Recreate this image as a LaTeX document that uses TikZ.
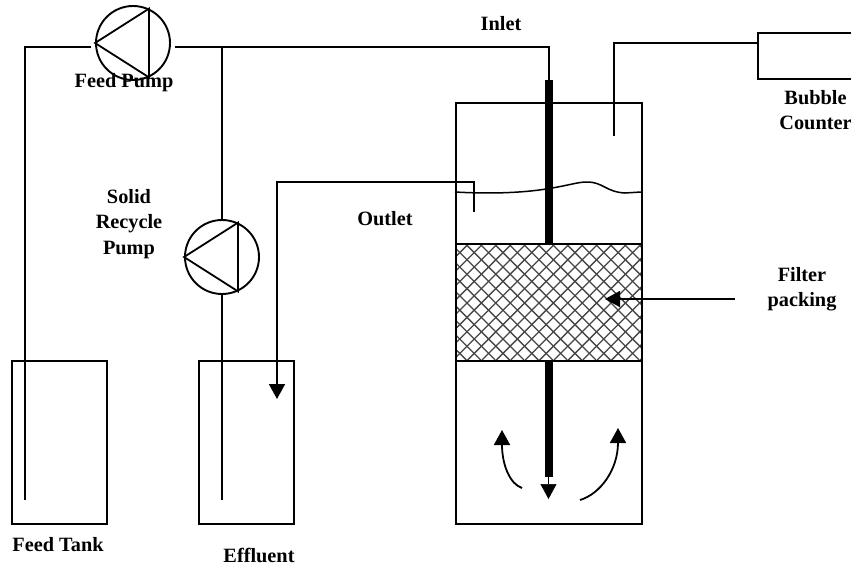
\documentclass[tikz,border=0pt]{standalone}
\usepackage{fontspec}
\setmainfont{Liberation Serif}
\usetikzlibrary{arrows.meta, positioning, calc}
\definecolor{linegray}{RGB}{0,0,0}
\definecolor{hatchgray}{RGB}{70,70,70}
\tikzset{
  vessel/.style={draw=linegray, line width=1.9pt, minimum width=#1, inner sep=0pt, anchor=north west},
  pump/.style={draw=linegray, circle, line width=1.9pt, minimum size=74pt, inner sep=0pt},
  pipe/.style={draw=linegray, line width=1.8pt},
  thickpipe/.style={draw=linegray, line width=7.5pt},
  arrow/.style={-{Triangle[length=15pt,width=16pt]}, line width=1.8pt, draw=linegray},
  label/.style={font=\fontsize{20.3}{25.5}\selectfont\bfseries, align=center, inner sep=0pt}
}
\begin{document}
\begin{tikzpicture}[x=1pt,y=-1pt]
  \useasboundingbox (0,0) rectangle (851,566);

  % pumps
  \node[pump] (feedpump) at (133,43) {};
  \node[pump] (solidpump) at (222,257) {};
  \draw[pipe, line join=miter] (feedpump.west) -- (feedpump.65) -- (feedpump.-65) -- cycle;
  \draw[pipe, line join=miter] (solidpump.west) -- (solidpump.65) -- (solidpump.-65) -- cycle;

  % tanks
  \node[vessel=95pt, minimum height=163pt] (feedtank) at (11,360) {};
  \node[vessel=95pt, minimum height=163pt] (effluenttank) at (198,360) {};
  \node[vessel=186pt, minimum height=421pt] (column) at (455,102) {};
  \draw[pipe] (851,33) -- (758,33) -- (758,79) -- (851,79);

  % packing
  \node[vessel=186pt, minimum height=117pt] (packing) at (455,243) {};
  \begin{scope}
    \clip (packing.north west) rectangle (packing.south east);
    \foreach \x in {0,...,22} {
      \draw[hatchgray, line width=1.3pt] ({335+14.4*\x},243) -- ++(117,117);
      \draw[hatchgray, line width=1.3pt] ({455+14.4*\x},243) -- ++(-117,117);
    }
  \end{scope}
  \node[vessel=186pt, minimum height=117pt] at (455,243) {};

  % pipes
  \coordinate (feedin) at (25,500);
  \coordinate (feedout) at (175,47);
  \coordinate (inlettop) at (549,47);
  \coordinate (inletend) at (549,80);
  \coordinate (branch) at (222,47);
  \draw[pipe] (feedin) |- (91,47);
  \draw[pipe] (feedout) -- (inlettop) -- (inletend);
  \draw[pipe] (branch) -- (222,220);
  \draw[pipe] (222,295) -- (222,500);
  \draw[arrow] (474,212) |- (277,182) -- (277,399);
  \draw[pipe] (614,136) |- (758,43);
  \draw[thickpipe] (inletend) -- (packing.north -| inletend);
  \draw[thickpipe] (packing.south -| inletend) -- (549,477);
  \draw[line width=0.6pt, -{Triangle[length=15pt,width=16pt]}] (548.5,477) -- (548.5,499);

  % liquid level
  \draw[pipe, line width=1.5pt] (455,192) .. controls (490,194) and (525,193) .. (552,188)
    .. controls (570,185) and (578,182) .. (587,182)
    .. controls (603,182) and (606,192) .. (625,193) -- (641,192);

  % flow arrows
  \draw[arrow] (522,488) .. controls (510,484) and (502,465) .. (502,430);
  \draw[arrow] (580,500) .. controls (600,494) and (618,470) .. (618,428);
  \draw[arrow] (735,299) -- (605,299);

  % labels
  \node[label] (inletlab) at (501,24) {Inlet};
  \node[label] (feedpumplab) at (124,83) {Feed Pump};
  \node[label] (solidlab) at (129,224) {Solid\\Recycle\\Pump};
  \node[label] (outletlab) at (385,219) {Outlet};
  \node[label] (bubblelab) at (815.5,110) {Bubble\\Counter};
  \node[label] (filterlab) at (802,289) {Filter\\packing};
  \node[label] (feedtanklab) at (58,545) {Feed Tank};
  \node[label] (effluentlab) at (259,555) {Effluent};
\end{tikzpicture}
\end{document}
